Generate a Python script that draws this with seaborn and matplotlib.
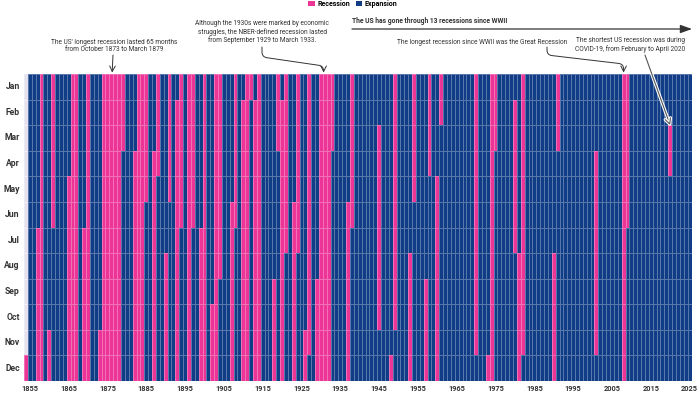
import matplotlib
matplotlib.use("Agg")
import matplotlib.pyplot as plt
import matplotlib.patheffects as pe
from matplotlib.colors import ListedColormap
from matplotlib.patches import Patch
import numpy as np
import pandas as pd
import seaborn as sns

# NBER business cycle dates (peak -> trough), recession months = month after peak .. trough
peaks = ["1857-06", "1860-10", "1865-04", "1869-06", "1873-10", "1882-03", "1887-03",
         "1890-07", "1893-01", "1895-12", "1899-06", "1902-09", "1907-05", "1910-01",
         "1913-01", "1918-08", "1920-01", "1923-05", "1926-10", "1929-08", "1937-05",
         "1945-02", "1948-11", "1953-07", "1957-08", "1960-04", "1969-12", "1973-11",
         "1980-01", "1981-07", "1990-07", "2001-03", "2007-12", "2020-02"]
troughs = ["1858-12", "1861-06", "1867-12", "1870-12", "1879-03", "1885-05", "1888-04",
           "1891-05", "1894-06", "1897-06", "1900-12", "1904-08", "1908-06", "1912-01",
           "1914-12", "1919-03", "1921-07", "1924-07", "1927-11", "1933-03", "1938-06",
           "1945-10", "1949-10", "1954-05", "1958-04", "1961-02", "1970-11", "1975-03",
           "1980-07", "1982-11", "1991-03", "2001-11", "2009-06", "2020-04"]
first_month = "1854-12"   # series starts at the Dec 1854 trough
last_month = "2025-12"

months = ["Jan", "Feb", "Mar", "Apr", "May", "Jun", "Jul", "Aug", "Sep", "Oct", "Nov", "Dec"]
years = list(range(1854, 2026))
tick_years = list(range(1855, 2026, 10))

PINK = "#ec3597"
NAVY = "#113d87"
TXT = "#333333"

# build month x year grid
idx = pd.period_range(first_month, last_month, freq="M")
state = pd.Series(0.0, index=idx)
state[pd.Period(first_month, "M")] = 1.0
for p, t in zip(peaks, troughs):
    state[pd.Period(p, "M") + 1: pd.Period(t, "M")] = 1.0
grid = pd.DataFrame(np.nan, index=months, columns=years)
for per, v in state.items():
    grid.loc[months[per.month - 1], per.year] = v

fig = plt.figure(figsize=(7, 3.94), dpi=100)
plt.rcParams["font.family"] = ["Roboto", "DejaVu Sans"]


def fp(x, y):
    return (x / 700, 1 - y / 394)


ax = fig.add_axes([24 / 700, 1 - 381 / 394, (691.5 - 24) / 700, (381 - 74) / 394])
ax.set_facecolor("#e4e2ee")
sns.heatmap(grid, cmap=ListedColormap([NAVY, PINK]), vmin=0, vmax=1, cbar=False,
            linewidths=0.45, linecolor=(1, 1, 1, 0.3), ax=ax)

ax.set_xticks([years.index(y) + 0.5 for y in tick_years])
ax.set_xticklabels([str(y) for y in tick_years], rotation=0, fontsize=5.3,
                   fontweight="bold", color=TXT)
ax.set_yticks(np.arange(len(months)) + 0.5)
ax.set_yticklabels(months, rotation=0, fontsize=6.2, fontweight="bold", color=TXT)
ax.tick_params(length=0, pad=3)
ax.set_xlabel("")
ax.set_ylabel("")

# legend
handles = [Patch(facecolor=PINK, label="Recession"), Patch(facecolor=NAVY, label="Expansion")]
fig.legend(handles=handles, loc="center", bbox_to_anchor=fp(353, 4), ncol=2, frameon=False,
           prop={"weight": "bold", "size": 5}, handlelength=0.9, handleheight=0.9,
           handletextpad=0.4, columnspacing=0.8, borderaxespad=0, borderpad=0)

# annotations
FS = 4.7
fig.text(*fp(114, 46), "The US' longest recession lasted 65 months\nfrom October 1873 to March 1879",
         ha="center", va="center", fontsize=FS, color=TXT, linespacing=1.15)
ax.annotate("", xy=(years.index(1876) + 0.7, 0), xycoords="data", xytext=fp(113, 55),
            textcoords="figure fraction",
            arrowprops=dict(arrowstyle="->", color=TXT, lw=0.7, shrinkA=0, shrinkB=1))

fig.text(*fp(262, 32), "Although the 1930s were marked by economic\nstruggles, the NBER-defined recession lasted\nfrom September 1929 to March 1933.",
         ha="center", va="center", fontsize=FS, color=TXT, linespacing=1.15)
ax.annotate("", xy=(years.index(1931) + 0.2, 0), xycoords="data", xytext=fp(262, 47),
            textcoords="figure fraction",
            arrowprops=dict(arrowstyle="->", color=TXT, lw=0.7, shrinkA=0, shrinkB=1,
                            connectionstyle="arc,angleA=-90,angleB=90,armA=10,armB=8,rad=5"))

fig.text(*fp(352, 21), "The US has gone through 13 recessions since WWII",
         ha="left", va="center", fontsize=4.9, fontweight="bold", color=TXT)
ax.annotate("", xy=fp(692, 29), xycoords="figure fraction", xytext=fp(352, 29),
            textcoords="figure fraction",
            arrowprops=dict(arrowstyle="-|>,head_length=0.7,head_width=0.25", color=TXT,
                            lw=0.9, shrinkA=0, shrinkB=0))

fig.text(*fp(482, 42), "The longest recession since WWII was the Great Recession",
         ha="center", va="center", fontsize=FS, color=TXT)
ax.annotate("", xy=(years.index(2008) + 0.5, 0), xycoords="data", xytext=fp(547, 47),
            textcoords="figure fraction",
            arrowprops=dict(arrowstyle="->", color=TXT, lw=0.7, shrinkA=0, shrinkB=1,
                            connectionstyle="arc,angleA=-90,angleB=90,armA=8,armB=10,rad=5"))

fig.text(*fp(630, 45), "The shortest US recession was during\nCOVID-19, from February to April 2020",
         ha="center", va="center", fontsize=FS, color=TXT, linespacing=1.15)
arr = ax.annotate("", xy=(years.index(2020) + 0.5, 2.0), xycoords="data", xytext=fp(645, 55),
                  textcoords="figure fraction",
                  arrowprops=dict(arrowstyle="->", color="#555555", lw=0.8, shrinkA=0, shrinkB=0))
arr.arrow_patch.set_path_effects([pe.Stroke(linewidth=2.4, foreground="white"), pe.Normal()])

fig.savefig("out.png", dpi=100)
